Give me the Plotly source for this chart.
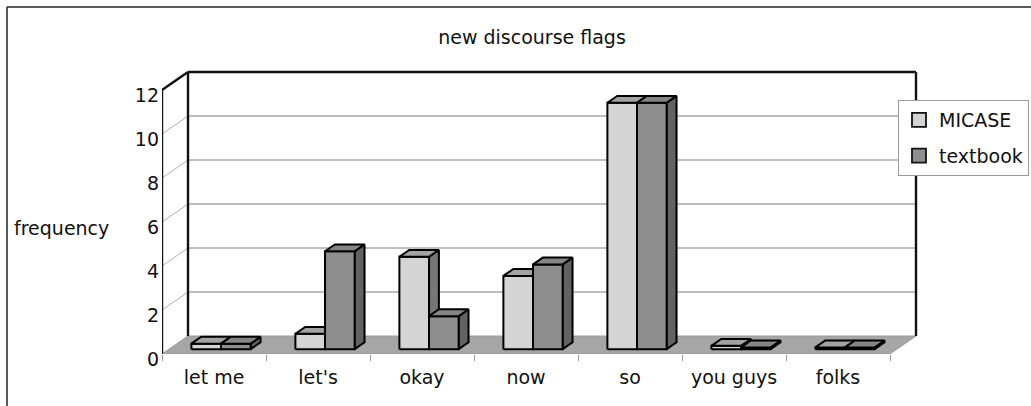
import plotly.graph_objects as go

# ---------------- data ----------------
categories = ["let me", "let's", "okay", "now", "so", "you guys", "folks"]
micase = [0.25, 0.7, 4.2, 3.33, 11.2, 0.15, 0.08]
textbook = [0.25, 4.45, 1.5, 3.85, 11.2, 0.08, 0.08]
y_ticks = [0, 2, 4, 6, 8, 10, 12]
series_names = ["MICASE", "textbook"]
title_text = "new discourse flags"
y_title = "frequency"

# ---------------- layout constants (pixels / style) ----------------
W, H = 1031, 406
XPX, YPX = 104.0, 22.0          # pixels per category and per value unit
LEFT, BOTTOM = 162, 354         # front-plane origin
RIGHT, TOP = 930, 62            # plot-area extent
DX, DY = 26 / XPX, 18 / YPX     # wall depth vector in data units
F1, F2 = 0.27, 0.65             # bar depth span (fraction of wall depth)
BW = 0.285                      # bar width in category units
FONT = "DejaVu Sans"

front_col = {"MICASE": "#d4d4d4", "textbook": "#8e8e8e"}
top_col = {"MICASE": "#a3a3a3", "textbook": "#858585"}
side_col = {"MICASE": "#777777", "textbook": "#626262"}

n = len(categories)
ymax = y_ticks[-1]
x_lo = -0.5
x_hi = n - 0.5

fig = go.Figure()


def poly_trace(polys, fill, color="#000000", width=2.0):
    xs, ys = [], []
    for p in polys:
        for (a, b) in p:
            xs.append(a)
            ys.append(b)
        xs.append(None)
        ys.append(None)
    return go.Scatter(x=xs, y=ys, mode="lines", fill="toself", fillcolor=fill,
                      line=dict(color=color, width=width), hoverinfo="skip",
                      showlegend=False)


def line_trace(segs, color, width):
    xs, ys = [], []
    for (p, q) in segs:
        xs += [p[0], q[0], None]
        ys += [p[1], q[1], None]
    return go.Scatter(x=xs, y=ys, mode="lines", line=dict(color=color, width=width),
                      hoverinfo="skip", showlegend=False)


# back wall gridlines and left wall diagonals
grid_back = [((x_lo + DX, v + DY), (x_hi + DX, v + DY)) for v in y_ticks[1:-1]]
grid_side = [((x_lo, v), (x_lo + DX, v + DY)) for v in y_ticks[1:-1]]
fig.add_trace(line_trace(grid_back, "#a8a8a8", 1.6))
fig.add_trace(line_trace(grid_side, "#b0b0b0", 1.0))

# floor
floor = [[(x_lo, 0), (x_hi, 0), (x_hi + DX, DY), (x_lo + DX, DY), (x_lo, 0)]]
fig.add_trace(poly_trace(floor, "#a6a6a6", color="#9a9a9a", width=1))

# wall edges
edges = [
    ((x_lo, 0), (x_lo, ymax)),
    ((x_lo, ymax), (x_lo + DX, ymax + DY)),
    ((x_lo + DX, ymax + DY), (x_hi + DX, ymax + DY)),
    ((x_hi + DX, ymax + DY), (x_hi + DX, DY)),
    ((x_lo + DX, DY), (x_lo + DX, ymax + DY)),
]
fig.add_trace(line_trace(edges, "#111111", 2.4))

# 3D bars
ox, oy = (F2 - F1) * DX, (F2 - F1) * DY
for s_idx, (name, vals) in enumerate(zip(series_names, [micase, textbook])):
    fronts, tops, sides = [], [], []
    for i, v in enumerate(vals):
        x0 = i + F1 * DX + (s_idx - 1) * BW
        x1 = x0 + BW
        yb = F1 * DY
        yt = yb + v
        fronts.append([(x0, yb), (x1, yb), (x1, yt), (x0, yt), (x0, yb)])
        tops.append([(x0, yt), (x1, yt), (x1 + ox, yt + oy), (x0 + ox, yt + oy), (x0, yt)])
        sides.append([(x1, yb), (x1 + ox, yb + oy), (x1 + ox, yt + oy), (x1, yt), (x1, yb)])
    fig.add_trace(poly_trace(sides, side_col[name]))
    fig.add_trace(poly_trace(fronts, front_col[name]))
    fig.add_trace(poly_trace(tops, top_col[name]))

# legend-only entries
for name in series_names:
    fig.add_trace(go.Scatter(x=[None], y=[None], mode="markers", name=name,
                             legendgroup=name,
                             marker=dict(symbol="square", size=14, color=front_col[name],
                                         line=dict(color="#111111", width=1.8))))

x_range = [x_lo, x_lo + (RIGHT - LEFT) / XPX]
y_range = [0, (BOTTOM - TOP) / YPX]


def px_x(p):
    return (p - LEFT) / (RIGHT - LEFT)


def px_y(p):
    return (BOTTOM - p) / (BOTTOM - TOP)


fig.update_layout(
    width=W, height=H,
    margin=dict(l=LEFT, r=W - RIGHT, t=TOP, b=H - BOTTOM, autoexpand=False),
    paper_bgcolor="white", plot_bgcolor="white",
    font=dict(family=FONT, size=19, color="#111111"),
    title=dict(text=title_text, x=532 / W, xref="container", xanchor="center",
               y=1 - 37 / H, yref="container", yanchor="middle",
               font=dict(family=FONT, size=19, color="#111111")),
    xaxis=dict(range=x_range, tickmode="array", tickvals=list(range(n)),
               ticktext=categories, ticks="", showgrid=False, zeroline=False,
               showline=False, ticklabelstandoff=10, automargin=False,
               minor=dict(tickmode="array", tickvals=[i - 0.5 for i in range(n + 1)],
                          ticks="outside", ticklen=6, tickcolor="#9a9a9a", tickwidth=1,
                          showgrid=False)),
    yaxis=dict(range=y_range, tickmode="array", tickvals=y_ticks,
               ticktext=[str(v) for v in y_ticks], ticks="", showgrid=False,
               zeroline=False, showline=False, automargin=False,
               ticklabelshift=5, ticklabelstandoff=2),
    showlegend=True,
    legend=dict(x=898 / W, y=1 - 100 / H, xref="container", yref="container",
                xanchor="left", yanchor="top", bgcolor="white",
                bordercolor="#9a9a9a", borderwidth=1, tracegroupgap=8,
                font=dict(family=FONT, size=19, color="#111111"),
                itemwidth=30),
    annotations=[dict(text=y_title, xref="paper", yref="paper",
                      x=px_x(12), y=px_y(228), xanchor="left", yanchor="middle",
                      showarrow=False, font=dict(family=FONT, size=19, color="#111111"))],
    shapes=[
        dict(type="line", xref="paper", yref="paper", x0=px_x(7), x1=px_x(7),
             y0=px_y(7), y1=px_y(H + 10), line=dict(color="#222222", width=1.5)),
        dict(type="line", xref="paper", yref="paper", x0=px_x(7), x1=px_x(W + 10),
             y0=px_y(7), y1=px_y(7), line=dict(color="#222222", width=1.5)),
    ],
)

fig.write_html("out.html")
